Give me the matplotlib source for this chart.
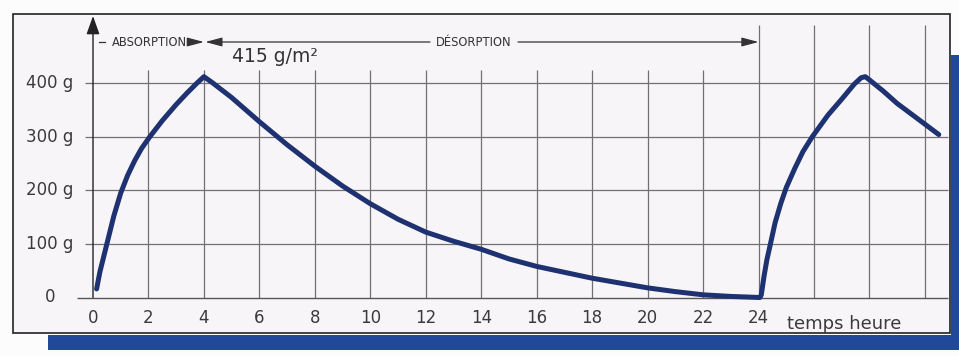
import matplotlib.pyplot as plt
from matplotlib.patches import Rectangle

# --- data ---
hour_ticks = [0, 2, 4, 6, 8, 10, 12, 14, 16, 18, 20, 22, 24]
extra_grid_hours = [26, 28, 30]
weight_ticks = [0, 100, 200, 300, 400]
weight_labels = ["0", "100 g", "200 g", "300 g", "400 g"]

absorption_h = [0.13, 0.25, 0.5, 0.75, 1.0, 1.25, 1.5, 1.75, 2.05, 2.5, 3.0, 3.4, 3.75, 4.0]
absorption_g = [16, 48, 100, 152, 195, 228, 255, 278, 300, 330, 360, 382, 400, 412]

desorption_h = [4.3, 4.6, 5, 6, 7, 8, 9, 10, 11, 12, 13, 14, 15, 16, 17, 18, 19, 20, 21, 22, 23, 24.05]
desorption_g = [401, 389, 373, 328, 285, 245, 208, 175, 146, 122, 105, 90, 72, 58, 47, 36, 27, 18, 11, 5, 2, 0]

reabsorption_h = [24.1, 24.2, 24.3, 24.43, 24.6, 24.8, 25.0, 25.3, 25.6, 25.94, 26.5, 27.0,
                  27.45, 27.7, 27.85, 28.0, 28.5, 29.0, 29.7, 30.5]
reabsorption_g = [5, 40, 70, 100, 140, 175, 205, 240, 272, 300, 340, 370,
                  398, 410, 412, 406, 385, 362, 335, 304]

peak_label = "415 g/m\u00b2"

# --- layout: pixel calibration of the scan ---
X0, PX_PER_H = 93, 27.73
Y0, PX_PER_G = 297.5, 0.536


def tx(px):
    return (px - X0) / PX_PER_H


def vy(py):
    return (Y0 - py) / PX_PER_G


fig = plt.figure(figsize=(9.59, 3.56), dpi=100)
fig.patch.set_facecolor("#fcfcfc")
ax = fig.add_axes([0, 0, 1, 1])
ax.set_xlim(tx(0), tx(959))
ax.set_ylim(vy(356), vy(0))
ax.axis("off")

# paper panel and blue shadow
ax.add_patch(Rectangle((tx(13), vy(333)), tx(950) - tx(13), vy(14) - vy(333),
                       fc="#f7f5f8", ec="#222222", lw=1.2, zorder=0))
ax.add_patch(Rectangle((tx(48), vy(350)), tx(960) - tx(48), vy(335) - vy(350),
                       fc="#22489b", ec="none", zorder=0))
ax.add_patch(Rectangle((tx(951), vy(350)), tx(960) - tx(951), vy(55) - vy(350),
                       fc="#22489b", ec="none", zorder=0))

grid_kw = dict(color="#707072", lw=0.9, zorder=1)

# vertical grid
for h in hour_ticks[1:-1]:
    ax.vlines(h, 0, vy(70), **grid_kw)
for h in [hour_ticks[-1]] + extra_grid_hours:
    ax.vlines(h, 0, vy(25), **grid_kw)

# horizontal grid + axis
ax.hlines(weight_ticks[1:], tx(85), tx(948), **grid_kw)
ax.hlines(0, tx(77), tx(948), color="#555555", lw=1.0, zorder=1)

# y axis with arrow
ax.annotate("", xy=(0, vy(16)), xytext=(0, 0),
            arrowprops=dict(arrowstyle="-|>,head_length=0.7,head_width=0.25",
                            mutation_scale=16, color="#222222", lw=1.0, shrinkA=0, shrinkB=0))

# tick labels
for h in hour_ticks:
    ax.text(h, vy(318), str(h), ha="center", va="center", fontsize=12, color="#3a3a3a")
for w, lab in zip(weight_ticks, weight_labels):
    ax.text(tx(50), w, lab, ha="center", va="center", fontsize=12, color="#3a3a3a")
ax.text(tx(844), vy(324), "temps heure", ha="center", va="center", fontsize=13, color="#3a3a3a")

# absorption / desorption annotation
ya = vy(42)
arrow_kw = dict(arrowstyle="-|>,head_length=0.6,head_width=0.16", mutation_scale=17,
                color="#333333", lw=0.9, shrinkA=0, shrinkB=0)
ax.plot([tx(99), tx(105)], [ya, ya], color="#333333", lw=0.9)
ax.text(tx(149), ya, "ABSORPTION", ha="center", va="center", fontsize=8.3, color="#333333")
ax.annotate("", xy=(4.0, ya), xytext=(tx(189), ya), arrowprops=arrow_kw)
ax.annotate("", xy=(4.05, ya), xytext=(tx(430), ya), arrowprops=arrow_kw)
ax.text(tx(474), ya, "D\u00c9SORPTION", ha="center", va="center", fontsize=8.3, color="#333333")
ax.annotate("", xy=(24, ya), xytext=(tx(518), ya), arrowprops=arrow_kw)
ax.text(tx(275), vy(57), peak_label, ha="center", va="center", fontsize=13.5, color="#333333")

# weight curve
time_h = absorption_h + desorption_h + reabsorption_h
weight_g = absorption_g + desorption_g + reabsorption_g
ax.plot(time_h, weight_g, color="#1e3170", lw=3.6,
        solid_joinstyle="round", solid_capstyle="round", zorder=3)

fig.savefig("out.png", dpi=100, facecolor=fig.get_facecolor())
